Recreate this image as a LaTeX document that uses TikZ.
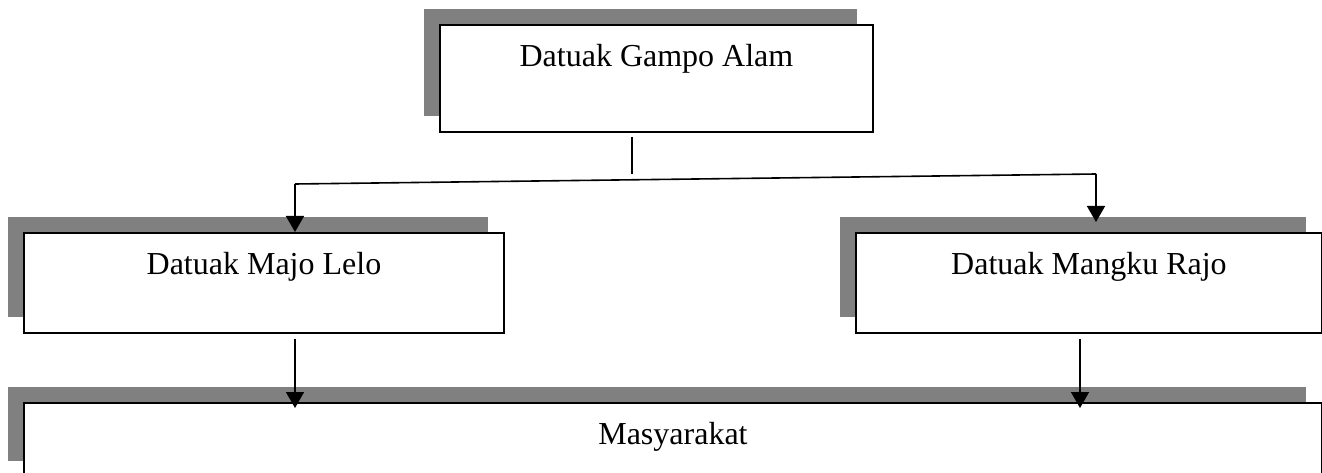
\documentclass[tikz,border=0pt]{standalone}
\usepackage{fontspec}
\setmainfont{Liberation Serif}
\usetikzlibrary{arrows.meta,shadows}
\begin{document}
\begin{tikzpicture}[x=1pt,y=1pt,
  box/.style={draw=black,line width=1.9pt,fill=white,rectangle,anchor=north west,
    inner xsep=0pt,inner ysep=0pt,text height=42pt,
    font=\fontsize{32}{38}\selectfont,
    general shadow={fill=black!50,draw=none,shadow xshift=-15.5pt,shadow yshift=16pt}},
  conn/.style={line width=1.6pt,draw=black},
  arr/.style={conn,-{Triangle[length=16pt,width=18pt]}}]
\useasboundingbox (0,0) rectangle (1322,-473);
\node[box,minimum width=433pt,text depth=65pt] (top) at (439,-24) {Datuak Gampo Alam};
\node[box,minimum width=480pt,text depth=58pt] (ml) at (23,-232) {Datuak Majo Lelo};
\node[box,minimum width=466pt,text depth=58pt] (mr) at (855,-232) {Datuak Mangku Rajo};
\node[box,minimum width=1298pt,text depth=32pt] (bot) at (23,-402) {Masyarakat};
\coordinate (jt) at (632,-174);
\coordinate (jl) at (295,-184);
\coordinate (jr) at (1096,-174);
\coordinate (bl) at (295,-337);
\coordinate (br) at (1080,-337);
\draw[conn,shorten <=4pt] (jt |- top.south) -- (jt);
\draw[conn] (jl) -- (jr);
\draw[arr] (jl) -- (jl |- ml.north);
\draw[arr,shorten >=10pt] (jr) -- (jr |- mr.north);
\draw[arr,shorten <=5pt,shorten >=-6pt] (bl |- ml.south) -- (bl |- bot.north);
\draw[arr,shorten <=5pt,shorten >=-6pt] (br |- mr.south) -- (br |- bot.north);
\end{tikzpicture}
\end{document}
